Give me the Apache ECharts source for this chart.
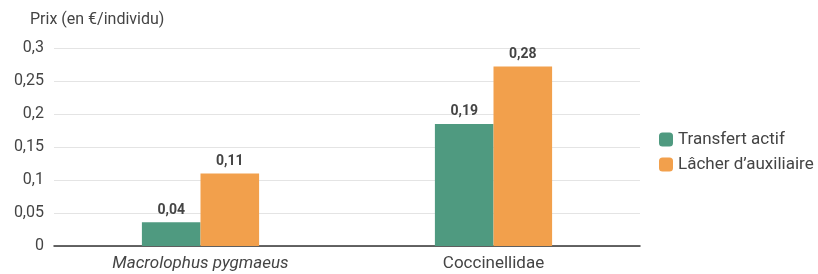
<!DOCTYPE html>
<html><head><meta charset="utf-8">
<script src="https://cdn.jsdelivr.net/npm/echarts@6/dist/echarts.min.js"></script>
<style>html,body{margin:0;padding:0;background:#fff}#c{width:818px;height:274px}</style>
</head><body><div id="c"></div>
<script>
const categories = ["Macrolophus pygmaeus", "Coccinellidae"];
const transfertActif = [0.036, 0.185];
const lacherAuxiliaire = [0.11, 0.272];
const transfertLabels = ["0,04", "0,19"];
const lacherLabels = ["0,11", "0,28"];
const yTicks = [0, 0.05, 0.1, 0.15, 0.2, 0.25, 0.3];

const chart = echarts.init(document.getElementById('c'));
const font = 'Roboto';
function lab(arr){ return p => arr[p.dataIndex]; }
chart.setOption({
  animation: false,
  textStyle: {fontFamily: font},
  grid: {left: 54, right: 178, top: 48, bottom: 28},
  title: {text: 'Prix (en €/individu)', left: 25, top: 7,
    textStyle: {fontFamily: font, fontSize: 16, fontWeight: 'normal', color: '#444'}},
  legend: {orient: 'vertical', left: 654, top: 126, itemWidth: 14, itemHeight: 14, itemGap: 8,
    textStyle: {fontFamily: font, fontSize: 17, color: '#444'},
    data: ['Transfert actif', 'Lâcher d\u2019auxiliaire']},
  xAxis: {type: 'category', data: categories,
    axisLine: {lineStyle: {color: '#333', width: 1.5}}, axisTick: {show: false},
    axisLabel: {fontFamily: font, fontSize: 17, color: '#444', margin: 9,
      formatter: v => v === 'Macrolophus pygmaeus' ? '{i|' + v + '}' : v,
      rich: {i: {fontStyle: 'italic', fontFamily: font, fontSize: 17, color: '#444'}}}},
  yAxis: {type: 'value', min: 0, max: 0.3, interval: 0.05,
    axisLine: {show: false}, axisTick: {show: false},
    splitLine: {lineStyle: {color: '#e4e4e4'}},
    axisLabel: {fontFamily: font, fontSize: 16, color: '#444', margin: 10,
      formatter: v => { const t = yTicks.find(x => Math.abs(x - v) < 1e-9); return String(+(t ?? v).toFixed(2)).replace('.', ','); }}},
  series: [
    {name: 'Transfert actif', type: 'bar', data: transfertActif, barGap: '0%', barCategoryGap: '60%',
     itemStyle: {color: '#4f9a80'},
     label: {show: true, position: 'top', distance: 5, formatter: lab(transfertLabels),
       fontFamily: font, fontSize: 14, fontWeight: 'bold', color: '#444'}},
    {name: 'Lâcher d\u2019auxiliaire', type: 'bar', data: lacherAuxiliaire,
     itemStyle: {color: '#f2a04c'},
     label: {show: true, position: 'top', distance: 5, formatter: lab(lacherLabels),
       fontFamily: font, fontSize: 14, fontWeight: 'bold', color: '#444'}}
  ]
});
</script></body></html>
